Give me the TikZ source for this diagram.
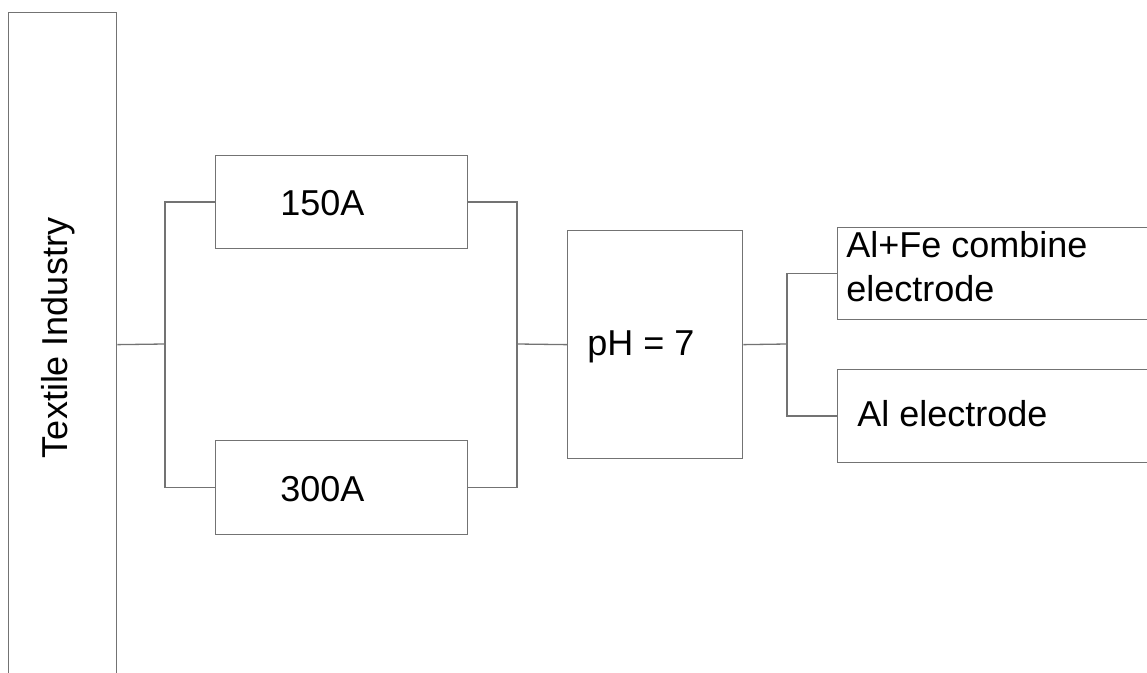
\documentclass[tikz,border=0pt]{standalone}
\usepackage{fontspec}
\setmainfont{Liberation Sans}
\usetikzlibrary{positioning}

\begin{document}
\begin{tikzpicture}[x=0.5pt, y=-0.5pt,
    stageBox/.style={rectangle, draw=black!55, line width=0.65pt, inner sep=0pt, anchor=north west},
    stageText/.style={font=\fontsize{18}{22}\selectfont, text=black, inner sep=0pt},
    link/.style={draw=black!55, line width=0.65pt}
]
    \useasboundingbox (0,0) rectangle (1147,673);
    \clip (0,0) rectangle (1147,673);

    % Source
    \node[stageBox, minimum width=54pt, minimum height=344pt] (tex) at (8,12) {};
    \node[stageText, rotate=90, anchor=base] (texT) at (68,338) {Textile Industry};

    % Current branches
    \node[stageBox, minimum width=126pt, minimum height=46.5pt] (b150) at (215,155) {};
    \node[stageText, anchor=base west] (b150T) at (280,216) {150A};
    \node[stageBox, minimum width=126pt, minimum height=47pt] (b300) at (215,440) {};
    \node[stageText, anchor=base west] (b300T) at (280,502) {300A};

    % pH
    \node[stageBox, minimum width=87.5pt, minimum height=114pt] (ph) at (567,230) {};
    \node[stageText, anchor=base west] (phT) at (587,356) {pH = 7};

    % Electrodes
    \node[stageBox, minimum width=170pt, minimum height=46pt] (alfe) at (837,227) {};
    \node[stageText, anchor=base west, align=left] (alfeT) at (846,302) {Al+Fe combine\\electrode};
    \node[stageBox, minimum width=170pt, minimum height=46.5pt] (al) at (837,369) {};
    \node[stageText, anchor=base west] (alT) at (857,427) {Al electrode};

    % Junctions
    \coordinate (splitL) at (165,344);
    \coordinate (joinR) at (517,344);
    \coordinate (splitE) at (787,344);

    \draw[link] (tex.east |- ph.west) -- (splitL);
    \draw[link] (b150.west) -| (splitL) |- (b300.west);
    \draw[link] (b150.east) -| (joinR) |- (b300.east);
    \draw[link] (joinR) -- (ph.west);
    \draw[link] (ph.east) -- (splitE);
    \draw[link] (alfe.west) -| (splitE) |- (al.west);
\end{tikzpicture}
\end{document}
